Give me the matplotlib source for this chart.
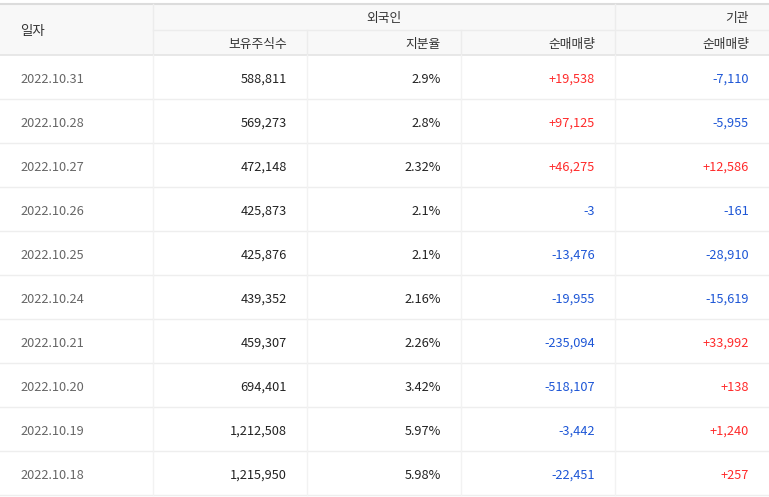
import matplotlib
matplotlib.use("Agg")
import matplotlib.pyplot as plt

dates = ["2022.10.31","2022.10.28","2022.10.27","2022.10.26","2022.10.25",
         "2022.10.24","2022.10.21","2022.10.20","2022.10.19","2022.10.18"]
holdings = [588811,569273,472148,425873,425876,439352,459307,694401,1212508,1215950]
ratio = ["2.9%","2.8%","2.32%","2.1%","2.1%","2.16%","2.26%","3.42%","5.97%","5.98%"]
foreign_net = [19538,97125,46275,-3,-13476,-19955,-235094,-518107,-3442,-22451]
inst_net = [-7110,-5955,12586,-161,-28910,-15619,33992,138,1240,257]

plt.rcParams["font.family"] = ["Noto Sans CJK KR"]
fig = plt.figure(figsize=(7.69, 4.97), dpi=100)
ax = fig.add_axes([0, 0, 1, 1])
ax.set_xlim(0, 769); ax.set_ylim(497, 0); ax.axis("off")

W = 769
top, mid, hb = 4, 30, 55
rh = 44
dy = 2.5
cols = [153, 307, 461, 615]
ax.add_patch(plt.Rectangle((0, top), W, hb - top, color="#f8f8f8", lw=0))
ax.plot([0, W], [top, top], color="#dcdcdc", lw=1.5)
ax.plot([153, W], [mid, mid], color="#ececec", lw=1)
ax.plot([0, W], [hb, hb], color="#e4e4e4", lw=1.2)
for c in cols:
    y0 = top if c in (153, 615) else mid
    ax.plot([c, c], [y0, hb], color="#ececec", lw=1)
fs = 9.2
ax.text(20, 29 + dy, "일자", fontsize=fs+0.5, va="center", color="#333")
ax.text(384, 16 + dy, "외국인", fontsize=fs, va="center", ha="center", color="#333")
ax.text(749, 16 + dy, "기관", fontsize=fs, va="center", ha="right", color="#333")
for x, t in zip([287, 441, 595, 749], ["보유주식수", "지분율", "순매매량", "순매매량"]):
    ax.text(x, 42 + dy, t, fontsize=fs, va="center", ha="right", color="#333")

def fmt(v):
    return ("+" if v > 0 else "") + f"{v:,}"
def col(v):
    return "#ff2a2a" if v > 0 else "#1d56d6"

for i in range(len(dates)):
    y0 = hb + i * rh
    yc = y0 + rh / 2 + dy
    ax.plot([0, W], [y0 + rh, y0 + rh], color="#eeeeee", lw=1)
    for c in cols:
        ax.plot([c, c], [y0, y0 + rh], color="#f2f2f2", lw=1)
    ax.text(20, yc, dates[i], fontsize=fs, va="center", color="#666")
    ax.text(287, yc, f"{holdings[i]:,}", fontsize=fs, va="center", ha="right", color="#222")
    ax.text(441, yc, ratio[i], fontsize=fs, va="center", ha="right", color="#222")
    ax.text(595, yc, fmt(foreign_net[i]), fontsize=fs, va="center", ha="right", color=col(foreign_net[i]))
    ax.text(749, yc, fmt(inst_net[i]), fontsize=fs, va="center", ha="right", color=col(inst_net[i]))

fig.savefig("out.png", dpi=100, facecolor="white")
